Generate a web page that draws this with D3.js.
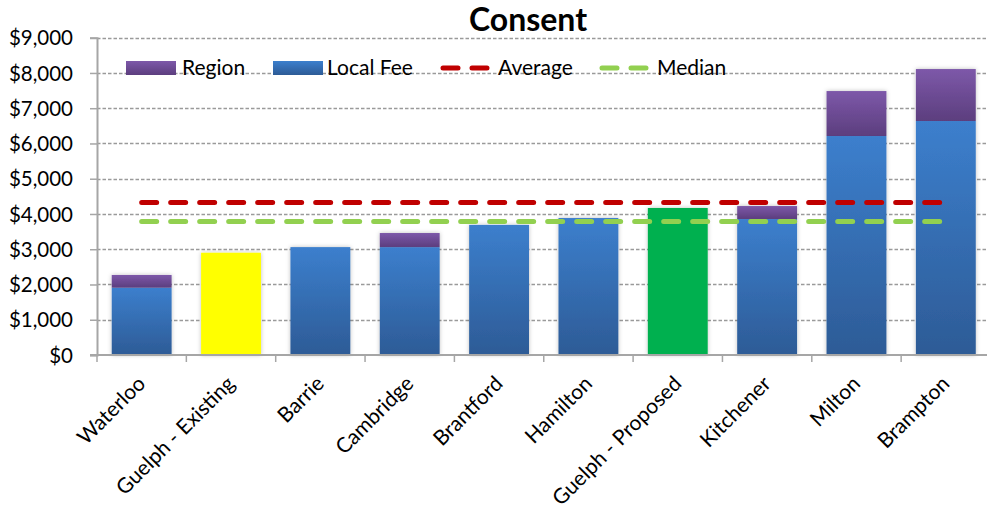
<!DOCTYPE html>
<html>
<head>
<meta charset="utf-8">
<script src="https://cdn.jsdelivr.net/npm/d3@7"></script>
<style>
  html, body { margin: 0; padding: 0; background: #fff; }
  svg { display: block; }
  text { font-family: Lato, "Open Sans", sans-serif; fill: #000; }
</style>
</head>
<body>
<svg id="chart" width="987" height="512"></svg>
<script>
// ---- data ----
const categories = ["Waterloo", "Guelph - Existing", "Barrie", "Cambridge", "Brantford",
                    "Hamilton", "Guelph - Proposed", "Kitchener", "Milton", "Brampton"];
const localFee = [1910, 2900, 3060, 3060, 3690, 3885, 4170, 3857, 6211, 6637];
const regionFee = [360, 0, 0, 400, 0, 0, 0, 368, 1276, 1474];
const averageValue = [4326];
const medianValue = [3787];
const yTicks = [0, 1000, 2000, 3000, 4000, 5000, 6000, 7000, 8000, 9000];
const legendLabels = ["Region", "Local Fee", "Average", "Median"];
const titleText = "Consent";

// ---- layout ----
const svg = d3.select("#chart");
const W = 987, H = 512;
const mLeft = 97, mRight = 990.5, mTop = 37.7, mBottom = 355;

const x = d3.scaleBand().domain(categories).range([mLeft, mRight]).paddingInner(0.33).paddingOuter(0.165);
const xTick = d3.scaleBand().domain(categories).range([mLeft, mRight]);
const y = d3.scaleLinear().domain([0, 9000]).range([mBottom, mTop]);

const defs = svg.append("defs");
function grad(id, c1, c2) {
  const g = defs.append("linearGradient").attr("id", id).attr("x1", 0).attr("y1", 0).attr("x2", 0).attr("y2", 1);
  g.append("stop").attr("offset", "0%").attr("stop-color", c1);
  g.append("stop").attr("offset", "100%").attr("stop-color", c2);
}
grad("gBlue", "#3C7FCD", "#2D5B96");
grad("gPurple", "#7D58A9", "#5C3E7E");
const f = defs.append("filter").attr("id", "shadow").attr("x", "-20%").attr("y", "-20%").attr("width", "140%").attr("height", "140%");
f.append("feDropShadow").attr("dx", 0).attr("dy", 0).attr("stdDeviation", 2).attr("flood-color", "#000").attr("flood-opacity", 0.25);

const specialFill = { "Guelph - Existing": "#FFFF00", "Guelph - Proposed": "#00B050" };

// gridlines
const grid = svg.append("g");
grid.selectAll("line").data(yTicks.filter(d => d > 0)).join("line")
  .attr("x1", mLeft).attr("x2", W)
  .attr("y1", d => Math.round(y(d)) + 0.5).attr("y2", d => Math.round(y(d)) + 0.5)
  .attr("stroke", "#9A9A9A").attr("stroke-width", 1.3).attr("stroke-dasharray", "3.5,2");

// y axis
const yAxis = d3.axisLeft(y).tickValues(yTicks).tickFormat(d3.format("$,")).tickSize(7).tickPadding(17);
const ya = svg.append("g").attr("transform", `translate(${mLeft},0)`).call(yAxis);
ya.select(".domain").attr("stroke", "#A6A6A6").attr("stroke-width", 2);
ya.selectAll(".tick line").attr("stroke", "#A6A6A6").attr("stroke-width", 1.5);
ya.selectAll(".tick text").attr("font-size", 20.5).attr("font-family", "Lato, sans-serif").attr("fill", "#000").attr("dy", "0.35em");

// bars
const bars = svg.append("g");
categories.forEach((c, i) => {
  const g = bars.append("g").attr("filter", "url(#shadow)");
  g.append("rect")
    .attr("x", x(c)).attr("width", x.bandwidth())
    .attr("y", y(localFee[i])).attr("height", y(0) - y(localFee[i]))
    .attr("fill", specialFill[c] || "url(#gBlue)");
  if (regionFee[i] > 0) {
    g.append("rect")
      .attr("x", x(c)).attr("width", x.bandwidth())
      .attr("y", y(localFee[i] + regionFee[i])).attr("height", y(localFee[i]) - y(localFee[i] + regionFee[i]))
      .attr("fill", "url(#gPurple)");
  }
});

// x axis
const xa = svg.append("g").attr("transform", `translate(0,${mBottom})`);
xa.append("line").attr("x1", mLeft - 7).attr("x2", W).attr("y1", 0).attr("y2", 0).attr("stroke", "#A6A6A6").attr("stroke-width", 2);
const tickPos = categories.map(c => xTick(c)).concat([mRight]);
xa.selectAll("line.t").data(tickPos).join("line").attr("class", "t")
  .attr("x1", d => d).attr("x2", d => d).attr("y1", 0).attr("y2", 7)
  .attr("stroke", "#A6A6A6").attr("stroke-width", 1.5);
xa.selectAll("text").data(categories).join("text")
  .attr("transform", d => `translate(${xTick(d) + xTick.bandwidth() / 2 + 5},${30}) rotate(-45)`)
  .attr("text-anchor", "end")
  .attr("font-size", 21)
  .text(d => d);

// average / median lines
const lineGen = d3.line().x(d => d[0]).y(d => d[1]);
const x0 = xTick(categories[0]) + xTick.bandwidth() / 2;
const x1 = xTick(categories[categories.length - 1]) + xTick.bandwidth() / 2;
svg.append("path").attr("d", lineGen([[x0, y(averageValue[0])], [x1, y(averageValue[0])]]))
  .attr("stroke", "#C00000").attr("stroke-width", 5).attr("stroke-linecap", "round")
  .attr("stroke-dasharray", "15,14").attr("fill", "none");
svg.append("path").attr("d", lineGen([[x0, y(medianValue[0])], [x1, y(medianValue[0])]]))
  .attr("stroke", "#92D050").attr("stroke-width", 5).attr("stroke-linecap", "round")
  .attr("stroke-dasharray", "15,14").attr("fill", "none");

// legend
const leg = svg.append("g");
const ly = 68;
leg.append("rect").attr("x", 126).attr("y", ly - 7).attr("width", 50).attr("height", 14).attr("fill", "url(#gPurple)");
leg.append("text").attr("x", 182).attr("y", ly).attr("dy", "0.35em").attr("font-size", 21).text(legendLabels[0]);
leg.append("rect").attr("x", 273).attr("y", ly - 7).attr("width", 50).attr("height", 14).attr("fill", "url(#gBlue)");
leg.append("text").attr("x", 327).attr("y", ly).attr("dy", "0.35em").attr("font-size", 21).text(legendLabels[1]);
leg.append("path").attr("d", lineGen([[443, ly], [487, ly]]))
  .attr("stroke", "#C00000").attr("stroke-width", 5).attr("stroke-linecap", "round").attr("stroke-dasharray", "15,14");
leg.append("text").attr("x", 498).attr("y", ly).attr("dy", "0.35em").attr("font-size", 21).text(legendLabels[2]);
leg.append("path").attr("d", lineGen([[602, ly], [646, ly]]))
  .attr("stroke", "#92D050").attr("stroke-width", 5).attr("stroke-linecap", "round").attr("stroke-dasharray", "15,14");
leg.append("text").attr("x", 657).attr("y", ly).attr("dy", "0.35em").attr("font-size", 21).text(legendLabels[3]);

// title
svg.append("text").attr("x", 528).attr("y", 31).attr("text-anchor", "middle")
  .attr("font-size", 32).attr("font-weight", "bold").text(titleText);
</script>
</body>
</html>
